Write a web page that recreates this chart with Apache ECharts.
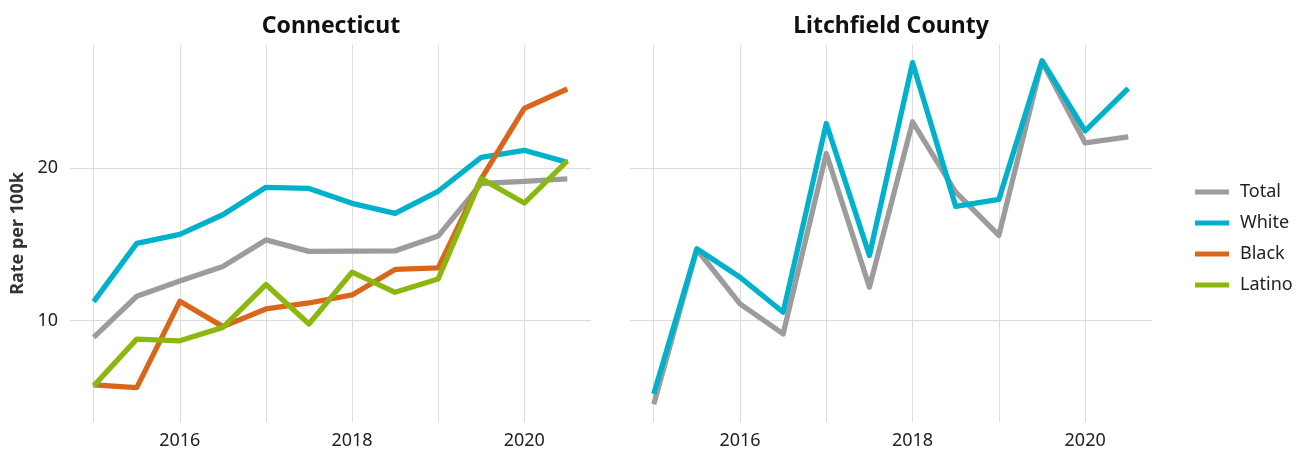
<!DOCTYPE html>
<html>
<head>
<meta charset="utf-8">
<script src="https://cdn.jsdelivr.net/npm/echarts@6/dist/echarts.min.js"></script>
<style>
html,body{margin:0;padding:0;background:#fff;}
#c{width:1305px;height:452px;}
</style>
</head>
<body>
<div id="c"></div>
<script>
const years = [2015, 2015.5, 2016, 2016.5, 2017, 2017.5, 2018, 2018.5, 2019, 2019.5, 2020, 2020.5];
const seriesNames = ['Total', 'White', 'Black', 'Latino'];
const panelTitles = ['Connecticut', 'Litchfield County'];
const xTickValues = [2015, 2016, 2017, 2018, 2019, 2020];
const xLabelValues = [2016, 2018, 2020];
const yTickValues = [10, 20];

const ctTotal  = [8.9, 11.6, 12.6, 13.55, 15.3, 14.55, 14.56, 14.58, 15.55, 19.0, 19.14, 19.3];
const ctWhite  = [11.25, 15.07, 15.66, 16.95, 18.75, 18.68, 17.7, 17.04, 18.49, 20.72, 21.18, 20.39];
const ctBlack  = [5.79, 5.61, 11.27, 9.61, 10.77, 11.16, 11.69, 13.36, 13.47, 19.3, 23.93, 25.2];
const ctLatino = [5.72, 8.79, 8.68, 9.56, 12.37, 9.78, 13.18, 11.86, 12.74, 19.32, 17.72, 20.48];
const lcTotal  = [4.52, 14.67, 11.1, 9.13, 20.97, 12.2, 23.05, 18.44, 15.59, 27.0, 21.66, 22.06];
const lcWhite  = [5.18, 14.72, 12.85, 10.55, 22.94, 14.28, 26.93, 17.5, 17.96, 27.06, 22.46, 25.24];

const colors = {Total: '#9c9c9c', White: '#00b1cb', Black: '#d9671b', Latino: '#8bb80f'};
const FONT = '"Noto Sans", sans-serif';

function pairs(vals) { return years.map((y, i) => [y, vals[i]]); }
function lineSeries(name, vals, idx) {
  return {
    name: name, type: 'line', xAxisIndex: idx, yAxisIndex: idx,
    data: pairs(vals), showSymbol: false, symbol: 'none', silent: true, animation: false,
    lineStyle: {color: colors[name], width: 5.3, join: 'round', cap: 'butt'},
    itemStyle: {color: colors[name]}
  };
}

const grids = [
  {left: 70, width: 521, top: 45, height: 377},
  {left: 630, width: 522, top: 45, height: 377}
];

function xAxis(i) {
  return {
    type: 'value', gridIndex: i, min: 2014.725, max: 2020.775,
    axisLine: {show: false},
    axisTick: {show: false, customValues: xTickValues},
    axisLabel: {customValues: xLabelValues, fontSize: 18, color: '#222', fontFamily: FONT, margin: 10,
                formatter: v => String(v)},
    splitLine: {show: true, lineStyle: {color: '#dcdcdc', width: 1}}
  };
}
function yAxis(i) {
  return {
    type: 'value', gridIndex: i, min: 3.35, max: 28.09,
    axisLine: {show: false},
    axisTick: {show: false, customValues: yTickValues},
    axisLabel: {show: i === 0, customValues: yTickValues, fontSize: 18, color: '#222', fontFamily: FONT, margin: 12},
    splitLine: {show: true, lineStyle: {color: '#dcdcdc', width: 1}},
    name: i === 0 ? 'Rate per 100k' : '',
    nameLocation: 'middle', nameRotate: 90, nameGap: 43,
    nameTextStyle: {fontSize: 18, fontWeight: 'bold', color: '#333', fontFamily: FONT}
  };
}

const chart = echarts.init(document.getElementById('c'), null, {renderer: 'canvas'});
chart.setOption({
  backgroundColor: '#fff',
  animation: false,
  title: [
    {text: panelTitles[0], left: 331, top: 15, textAlign: 'center', padding: 0,
     textStyle: {fontSize: 23, fontWeight: 'bold', color: '#111', fontFamily: FONT}},
    {text: panelTitles[1], left: 891, top: 15, textAlign: 'center', padding: 0,
     textStyle: {fontSize: 23, fontWeight: 'bold', color: '#111', fontFamily: FONT}}
  ],
  legend: {
    data: seriesNames, orient: 'vertical', left: 1195, top: 182,
    icon: 'rect', itemWidth: 34, itemHeight: 5, itemGap: 11, padding: 0,
    textStyle: {fontSize: 18, color: '#222', fontFamily: FONT, lineHeight: 20, padding: [0, 0, 0, 6]},
    selectedMode: false
  },
  grid: grids,
  xAxis: [xAxis(0), xAxis(1)],
  yAxis: [yAxis(0), yAxis(1)],
  series: [
    lineSeries('Total', ctTotal, 0),
    lineSeries('White', ctWhite, 0),
    lineSeries('Black', ctBlack, 0),
    lineSeries('Latino', ctLatino, 0),
    lineSeries('Total', lcTotal, 1),
    lineSeries('White', lcWhite, 1)
  ]
});
</script>
</body>
</html>
